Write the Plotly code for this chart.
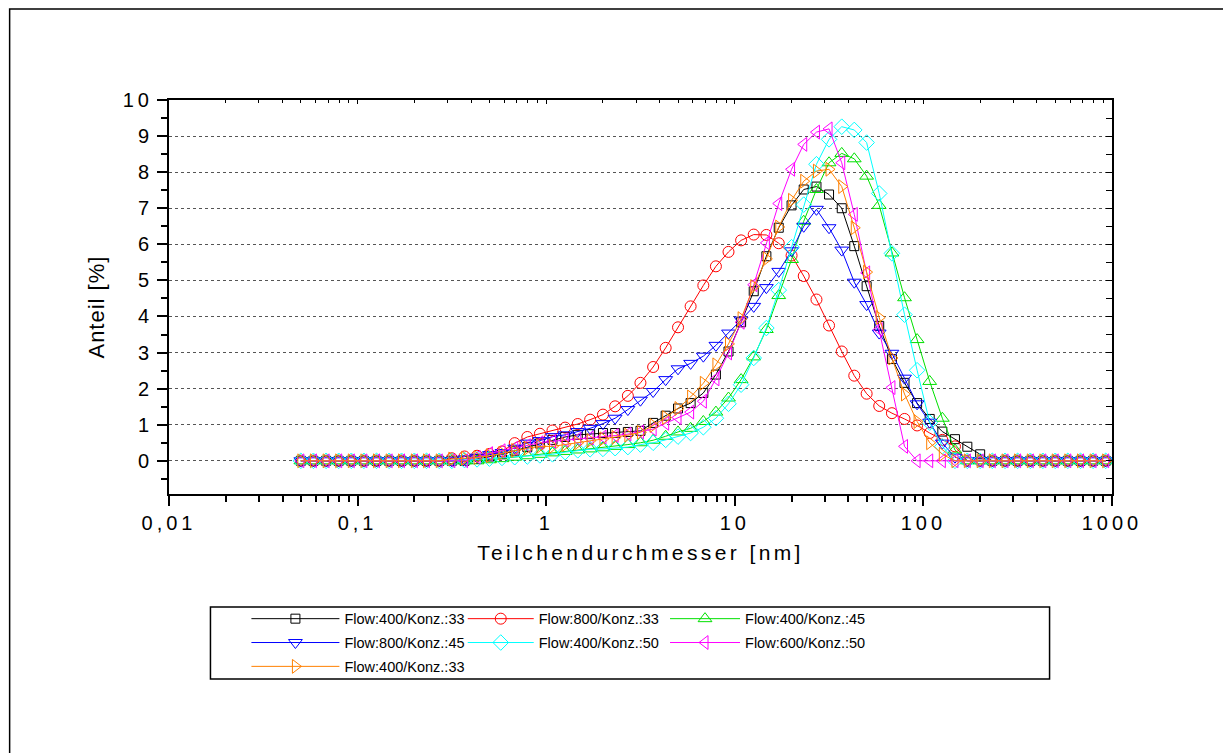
import plotly.graph_objects as go

# Particle diameter grid [nm]
diam = [0.05, 0.0583, 0.0681, 0.0794, 0.0926, 0.108, 0.126, 0.147, 0.171, 0.2,
        0.232, 0.271, 0.316, 0.369, 0.43, 0.5, 0.583, 0.681, 0.794, 0.926,
        1.08, 1.26, 1.47, 1.71, 2.0, 2.32, 2.71, 3.16, 3.69, 4.3,
        5.0, 5.83, 6.81, 7.94, 9.26, 10.8, 12.6, 14.7, 17.1, 20.0,
        23.2, 27.1, 31.6, 36.9, 43.0, 50.0, 58.3, 68.1, 79.4, 92.6,
        108, 126, 147, 171, 200, 232, 271, 316, 369, 430,
        500, 583, 681, 794, 926]

flow400_k33 = [0]*14 + [0.05, 0.12, 0.18, 0.28, 0.38, 0.48, 0.58, 0.66, 0.72, 0.74,
               0.77, 0.77, 0.8, 0.83, 1.05, 1.25, 1.45, 1.6, 1.88, 2.39,
               3.03, 3.84, 4.7, 5.67, 6.46, 7.08, 7.52, 7.6, 7.38, 7.0,
               5.95, 4.84, 3.74, 2.82, 2.16, 1.6, 1.16, 0.81, 0.6, 0.39,
               0.18] + [0]*10

flow800_k33 = [0]*12 + [0.07, 0.12, 0.14, 0.19, 0.26, 0.49, 0.66, 0.75, 0.84, 0.92,
               1.02, 1.14, 1.28, 1.51, 1.8, 2.16, 2.6, 3.13, 3.7, 4.28,
               4.86, 5.39, 5.79, 6.11, 6.27, 6.26, 6.03, 5.69, 5.12, 4.47,
               3.75, 3.03, 2.36, 1.86, 1.52, 1.32, 1.16, 0.98, 0.77, 0.58,
               0.4] + [0]*12

flow400_k45 = [0]*15 + [0.03, 0.06, 0.1, 0.14, 0.18, 0.22, 0.26, 0.3, 0.33, 0.36,
               0.4, 0.45, 0.5, 0.57, 0.68, 0.8, 0.9, 1.09, 1.35, 1.74,
               2.25, 2.88, 3.64, 4.58, 5.58, 6.64, 7.52, 8.26, 8.52, 8.37,
               7.89, 7.08, 5.76, 4.52, 3.36, 2.2, 1.18, 0.3] + [0]*12

flow800_k45 = [0]*13 + [0.05, 0.1, 0.17, 0.23, 0.35, 0.49, 0.56, 0.67, 0.72, 0.81,
               0.9, 1.03, 1.18, 1.42, 1.68, 1.92, 2.25, 2.55, 2.7, 2.9,
               3.2, 3.54, 3.9, 4.28, 4.8, 5.25, 5.82, 6.5, 6.97, 6.46,
               5.84, 4.95, 4.33, 3.54, 2.98, 2.29, 1.58, 1.07, 0.49, 0.1] + [0]*12

flow400_k50 = [0]*13 + [0.02, 0.04, 0.06, 0.08, 0.1, 0.12, 0.15, 0.18, 0.24, 0.29,
               0.32, 0.33, 0.35, 0.38, 0.45, 0.5, 0.58, 0.67, 0.77, 0.93,
               1.18, 1.58, 2.11, 2.85, 3.68, 4.73, 5.92, 7.1, 8.22, 8.91,
               9.26, 9.17, 8.82, 7.41, 5.75, 4.05, 2.51, 1.06, 0.4] + [0]*13

flow600_k50 = [0]*14 + [0.1, 0.2, 0.28, 0.35, 0.42, 0.5, 0.54, 0.57, 0.6, 0.63,
               0.66, 0.7, 0.74, 0.8, 0.88, 1.04, 1.2, 1.35, 1.65, 2.27,
               2.99, 3.84, 4.88, 6.04, 7.13, 8.08, 8.77, 9.11, 9.2, 8.26,
               6.83, 5.21, 3.64, 2.03, 0.4] + [0]*16

flow400_k33b = [0]*12 + [0.05, 0.07, 0.09, 0.14, 0.21, 0.29, 0.35, 0.4, 0.4, 0.45,
                0.5, 0.56, 0.61, 0.65, 0.71, 0.79, 0.98, 1.2, 1.45, 1.77,
                2.15, 2.66, 3.24, 3.94, 4.83, 5.6, 6.48, 7.22, 7.75, 8.03,
                8.08, 7.6, 6.46, 5.23, 3.97, 2.85, 1.85, 1.09, 0.5, 0.18] + [0]*13

names = ["Flow:400/Konz.:33", "Flow:800/Konz.:33", "Flow:400/Konz.:45",
         "Flow:800/Konz.:45", "Flow:400/Konz.:50", "Flow:600/Konz.:50",
         "Flow:400/Konz.:33"]
series = [flow400_k33, flow800_k33, flow400_k45, flow800_k45,
          flow400_k50, flow600_k50, flow400_k33b]
colors = ["#000000", "#FF0000", "#00E000", "#0000FF", "#00FFFF", "#FF00FF", "#FF8000"]
symbols = ["square-open", "circle-open", "triangle-up-open", "triangle-down-open",
           "diamond-open", "triangle-left-open", "triangle-right-open"]
sizes = [9, 11, 12, 12, 12, 12, 12]
# legend columns (left, middle, right)
legend_ids = ["legend", "legend2", "legend3", "legend", "legend2", "legend3", "legend"]

x_ticks = [0.01, 0.1, 1, 10, 100, 1000]
x_ticktext = ["0,01", "0,1", "1", "10", "100", "1000"]
y_ticks = list(range(0, 11))

SP = "letter-spacing:4px"
fig = go.Figure()
for k, (nm, ys, c, s, sz, lg) in enumerate(zip(names, series, colors, symbols, sizes, legend_ids)):
    fig.add_trace(go.Scatter(
        x=diam, y=ys, name=nm, mode="lines+markers",
        line=dict(color=c, width=1),
        marker=dict(symbol=s, size=sz, color=c, line=dict(color=c, width=1)),
        legend=lg, legendgroup="g%d" % k,
    ))

# invisible trace for mirrored axes
fig.add_trace(go.Scatter(x=[diam[0]], y=[0], xaxis="x2", yaxis="y2",
                         mode="markers", marker=dict(opacity=0),
                         showlegend=False, hoverinfo="skip"))

minor_x = [m * 10 ** e for e in range(-2, 3) for m in range(2, 10)]
font_family = "Liberation Sans, Arial, sans-serif"

fig.update_layout(
    width=1223, height=745,
    paper_bgcolor="white", plot_bgcolor="white",
    margin=dict(l=160.5, r=118.5, t=92, b=259),
    font=dict(family=font_family, color="black"),
    xaxis=dict(
        type="log", range=[-2, 3],
        tickmode="array", tickvals=x_ticks,
        ticktext=['<span style="%s">%s</span>' % (SP, t) for t in x_ticktext],
        ticks="outside", ticklen=10, tickwidth=1.5, tickcolor="black",
        minor=dict(tickmode="array", tickvals=minor_x, ticks="outside",
                   ticklen=6, tickwidth=1.5, tickcolor="black", showgrid=False),
        showgrid=False, zeroline=False,
        showline=True, linecolor="black", linewidth=2,
        tickfont=dict(size=20),
        title=dict(text='<span style="letter-spacing:3.4px">Teilchendurchmesser [nm]</span>',
                   font=dict(size=21), standoff=12),
    ),
    yaxis=dict(
        range=[-0.92, 10],
        tickmode="array", tickvals=y_ticks,
        ticktext=['<span style="%s">%d</span>' % (SP, v) for v in y_ticks],
        ticks="outside", ticklen=10, tickwidth=1.5, tickcolor="black",
        minor=dict(dtick=0.5, tick0=0, ticks="outside", ticklen=6,
                   tickwidth=1.5, tickcolor="black", showgrid=False),
        showgrid=True, gridcolor="#555555", griddash="dot", gridwidth=1,
        zeroline=False,
        showline=True, linecolor="black", linewidth=2,
        tickfont=dict(size=20),
    ),
    xaxis2=dict(
        type="log", range=[-2, 3], overlaying="x", side="top", anchor="y2",
        tickmode="array", tickvals=x_ticks, ticks="inside", ticklen=4,
        tickwidth=1, tickcolor="black", showticklabels=False,
        minor=dict(tickmode="array", tickvals=minor_x, ticks="inside",
                   ticklen=3, tickwidth=1, tickcolor="black"),
        showgrid=False, zeroline=False,
        showline=True, linecolor="black", linewidth=2,
    ),
    yaxis2=dict(
        range=[-0.92, 10], overlaying="y", side="right", anchor="x2",
        tickmode="array", tickvals=y_ticks, ticks="inside", ticklen=6,
        tickwidth=1, tickcolor="black", showticklabels=False,
        minor=dict(dtick=0.5, tick0=0, ticks="inside", ticklen=6,
                   tickwidth=1, tickcolor="black"),
        showgrid=False, zeroline=False,
        showline=True, linecolor="black", linewidth=2,
    ),
)

# y-axis title (placed slightly below the plot centre, as in the original)
fig.add_annotation(text='<span style="letter-spacing:1px">Anteil [%]</span>',
                   xref="paper", yref="paper", x=-0.0779, y=0.4746,
                   xanchor="center", yanchor="middle", textangle=-90,
                   showarrow=False, font=dict(size=22, family=font_family))

leg_common = dict(orientation="v", xanchor="left", yanchor="top", y=-0.276,
                  bgcolor="rgba(0,0,0,0)", borderwidth=0,
                  font=dict(size=14.5, family=font_family),
                  tracegroupgap=2)
fig.update_layout(
    legend=dict(x=0.0821, itemwidth=88, **leg_common),
    legend2=dict(x=0.3115, itemwidth=66, **leg_common),
    legend3=dict(x=0.5260, itemwidth=70, **leg_common),
)

# legend frame and figure frame
fig.add_shape(type="rect", xref="paper", yref="paper",
              x0=0.04396, x1=0.93379, y0=-0.4695, y1=-0.2868,
              line=dict(color="black", width=1.5), fillcolor="rgba(0,0,0,0)")
fig.add_shape(type="rect", xref="paper", yref="paper",
              x0=-0.169, x1=1.1192, y0=-0.69, y1=1.231,
              line=dict(color="black", width=1.5), fillcolor="rgba(0,0,0,0)")

fig.write_html("out.html")
